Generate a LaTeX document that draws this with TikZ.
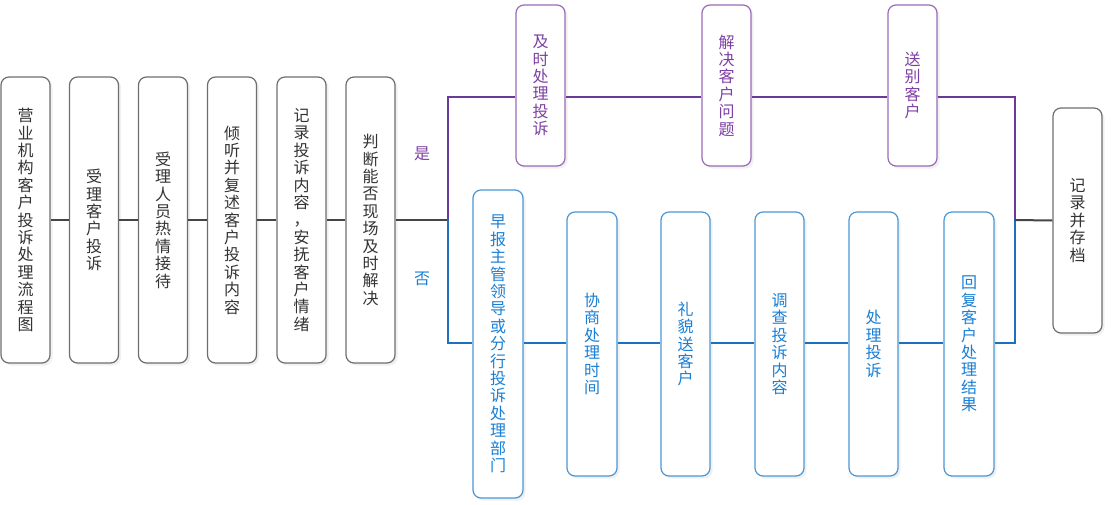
\documentclass[tikz,border=0pt]{standalone}
\usepackage{fontspec}
\setmainfont{Noto Sans CJK SC}
\usetikzlibrary{shadows}
\definecolor{gline}{HTML}{454545}
\definecolor{gbord}{HTML}{6E6E6E}
\definecolor{gtext}{HTML}{333333}
\definecolor{pline}{HTML}{6B3A96}
\definecolor{pbord}{HTML}{9A6AB8}
\definecolor{ptext}{HTML}{7E3FA4}
\definecolor{bline}{HTML}{1F6FBF}
\definecolor{bbord}{HTML}{4B97D6}
\definecolor{btext}{HTML}{1A7FD4}
\tikzset{
  box/.style={draw, rounded corners=8pt, line width=1.2pt, fill=white, inner sep=0pt,
    align=center, font={\fontsize{16}{17.4}\selectfont},
    drop shadow={opacity=0.12, shadow xshift=2.5pt, shadow yshift=-2.5pt}},
  gbox/.style={box, draw=gbord, text=gtext},
  pbox/.style={box, draw=pbord, text=ptext},
  bbox/.style={box, draw=bbord, text=btext},
  gconn/.style={draw=gline, line width=2pt},
  pconn/.style={draw=pline, line width=2pt},
  bconn/.style={draw=bline, line width=2pt},
  lbl/.style={font={\fontsize{16}{17.4}\selectfont}, inner sep=0pt},
}
\begin{document}
\begin{tikzpicture}[x=1pt,y=-1pt]
\useasboundingbox (0,0) rectangle (1114,504);
% left column boxes
\node[gbox, minimum width=49pt, minimum height=286pt] (g1) at (25.5,220) {营\\业\\机\\构\\客\\户\\投\\诉\\处\\理\\流\\程\\图};
\node[gbox, minimum width=49pt, minimum height=286pt] (g2) at (94,220) {受\\理\\客\\户\\投\\诉};
\node[gbox, minimum width=49pt, minimum height=286pt] (g3) at (163,220) {受\\理\\人\\员\\热\\情\\接\\待};
\node[gbox, minimum width=49pt, minimum height=286pt] (g4) at (232,220) {倾\\听\\并\\复\\述\\客\\户\\投\\诉\\内\\容};
\node[gbox, minimum width=49pt, minimum height=286pt] (g5) at (301.5,220) {记\\录\\投\\诉\\内\\容\\，\\安\\抚\\客\\户\\情\\绪};
\node[gbox, minimum width=49pt, minimum height=286pt] (g6) at (370.5,220) {判\\断\\能\\否\\现\\场\\及\\时\\解\\决};
% purple branch
\node[pbox, minimum width=49pt, minimum height=161pt] (p1) at (540.5,85.5) {及\\时\\处\\理\\投\\诉};
\node[pbox, minimum width=49pt, minimum height=161pt] (p2) at (726.5,85.5) {解\\决\\客\\户\\问\\题};
\node[pbox, minimum width=49pt, minimum height=161pt] (p3) at (912.5,85.5) {送\\别\\客\\户};
% blue branch
\node[bbox, minimum width=50pt, minimum height=308pt] (q1) at (498,344) {早\\报\\主\\管\\领\\导\\或\\分\\行\\投\\诉\\处\\理\\部\\门};
\node[bbox, minimum width=50pt, minimum height=264pt] (q2) at (592,344) {协\\商\\处\\理\\时\\间};
\node[bbox, minimum width=49pt, minimum height=264pt] (q3) at (685.5,344) {礼\\貌\\送\\客\\户};
\node[bbox, minimum width=49pt, minimum height=264pt] (q4) at (779.5,344) {调\\查\\投\\诉\\内\\容};
\node[bbox, minimum width=49pt, minimum height=264pt] (q5) at (873.5,344) {处\\理\\投\\诉};
\node[bbox, minimum width=50pt, minimum height=264pt] (q6) at (969,344) {回\\复\\客\\户\\处\\理\\结\\果};
% final
\node[gbox, minimum width=49pt, minimum height=225pt] (r) at (1077.5,220.5) {记\\录\\并\\存\\档};
% labels
\node[lbl, text=ptext] (yes) at (422,154) {是};
\node[lbl, text=btext] (no) at (422,279) {否};
% junction coordinates
\coordinate (j) at (448,220);
\coordinate (jt) at (448,97);
\coordinate (jb) at (448,343);
\coordinate (k) at (1015,220);
\coordinate (kt) at (1015,97);
\coordinate (kb) at (1015,343);
% connectors
\begin{scope}[on background layer/.try]
\end{scope}
\path[gconn] (g1.east) -- (g2.west);
\path[gconn] (g2.east) -- (g3.west);
\path[gconn] (g3.east) -- (g4.west);
\path[gconn] (g4.east) -- (g5.west);
\path[gconn] (g5.east) -- (g6.west);
\path[gconn] (g6.east) -- (j);
\path[pconn] (j) -- (jt) -- (p1.west |- jt);
\path[pconn] (p1.east |- jt) -- (p2.west |- jt);
\path[pconn] (p2.east |- jt) -- (p3.west |- jt);
\path[pconn] (p3.east |- jt) -- (kt) -- (k);
\path[bconn] (j) -- (jb) -- (q1.west |- jb);
\path[bconn] (q1.east |- jb) -- (q2.west |- jb);
\path[bconn] (q2.east |- jb) -- (q3.west |- jb);
\path[bconn] (q3.east |- jb) -- (q4.west |- jb);
\path[bconn] (q4.east |- jb) -- (q5.west |- jb);
\path[bconn] (q5.east |- jb) -- (q6.west |- jb);
\path[bconn] (q6.east |- jb) -- (kb) -- (k);
\path[gconn] (k) -- (r.west);
\end{tikzpicture}
\end{document}
